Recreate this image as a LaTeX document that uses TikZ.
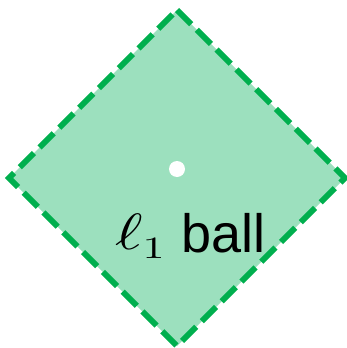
\documentclass[tikz,border=0pt]{standalone}
\usepackage{graphicx}
\usepackage{fontspec}
\setmainfont{Liberation Sans}
\definecolor{ballfill}{HTML}{9CE0BE}
\definecolor{balledge}{HTML}{00AF4E}
\begin{document}
\begin{tikzpicture}[x=1pt,y=-1pt,
  ballstyle/.style={fill=ballfill,draw=balledge,line width=6pt,dash pattern=on 20pt off 8pt,line join=miter},
  dotstyle/.style={circle,fill=white,inner sep=0pt,minimum size=16pt}]
\useasboundingbox (0,0) rectangle (347,348);
\coordinate (T) at (177,10);
\coordinate (R) at (345,178);
\coordinate (B) at (177,346);
\coordinate (L) at (9,178);
\path[ballstyle] (T) -- (R) -- (B) -- (L) -- cycle;
\node[dotstyle] (c) at (177,169) {};
\node[anchor=base west,inner sep=0pt] (lbl) at (115,252)
  {\raisebox{3pt}{\scalebox{6.6}[5.1]{$\ell$}}\hspace{0pt}\raisebox{-6pt}{\scalebox{4.4}[3.1]{$1$}}\hspace{17pt}\fontsize{54}{60}\selectfont ball};
\end{tikzpicture}
\end{document}
